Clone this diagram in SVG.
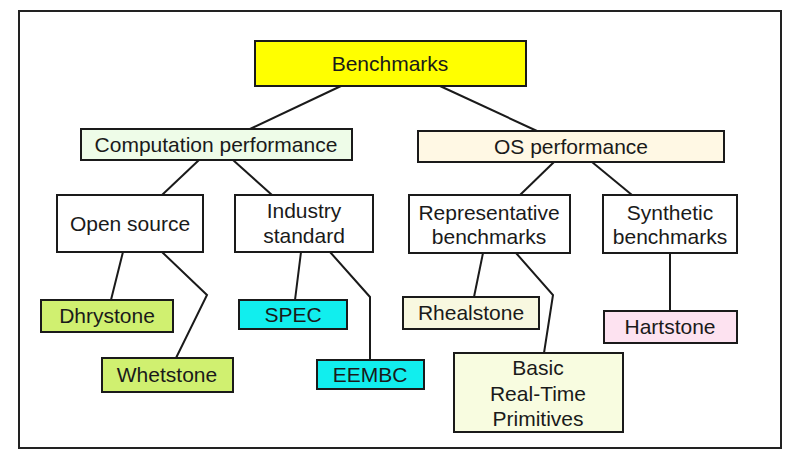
<svg xmlns="http://www.w3.org/2000/svg" width="790" height="456" viewBox="0 0 790 456">
<style>
.box{stroke:#1a1a1a;stroke-width:2}
.t{font-family:"Liberation Sans",Arial,sans-serif;font-size:21px;fill:#1a1a1a;text-anchor:middle}
.c{fill:none;stroke:#1a1a1a;stroke-width:2}
</style>
<rect width="790" height="456" fill="#ffffff"/>
<rect x="19" y="11" width="762" height="437" fill="none" stroke="#222" stroke-width="2"/>
<g id="connectors">
<path class="c" d="M341,86 L250,129"/>
<path class="c" d="M440,86 L537,131"/>
<path class="c" d="M199,160 L162,195"/>
<path class="c" d="M233,160 L272,195"/>
<path class="c" d="M554,162 L520,195"/>
<path class="c" d="M592,162 L632,195"/>
<path class="c" d="M123,252 L111,300"/>
<path class="c" d="M162,252 L207,295 L176,358"/>
<path class="c" d="M301,252 L295,300"/>
<path class="c" d="M330,252 L370,297 L370,360"/>
<path class="c" d="M483,253 L474,297"/>
<path class="c" d="M516,253 L553,295 L544,353"/>
<path class="c" d="M670,253 L670,311"/>
</g>
<g id="benchmarks"><rect class="box" x="255" y="41" width="271" height="45" fill="#ffff00"/><text class="t" x="390" y="71">Benchmarks</text></g>
<g id="computation"><rect class="box" x="81" y="129" width="271" height="31" fill="#eefce8"/><text class="t" x="216" y="152">Computation performance</text></g>
<g id="os"><rect class="box" x="418" y="131" width="306" height="31" fill="#fff8e4"/><text class="t" x="571" y="154">OS performance</text></g>
<g id="opensource"><rect class="box" x="57" y="195" width="146" height="57" fill="#ffffff"/><text class="t" x="130" y="231">Open source</text></g>
<g id="industry"><rect class="box" x="235" y="195" width="138" height="57" fill="#ffffff"/><text class="t" x="304" y="218">Industry</text><text class="t" x="304" y="243">standard</text></g>
<g id="representative"><rect class="box" x="409" y="195" width="161" height="58" fill="#ffffff"/><text class="t" x="489" y="220">Representative</text><text class="t" x="489" y="244">benchmarks</text></g>
<g id="synthetic"><rect class="box" x="603" y="195" width="134" height="58" fill="#ffffff"/><text class="t" x="670" y="220">Synthetic</text><text class="t" x="670" y="244">benchmarks</text></g>
<g id="dhrystone"><rect class="box" x="41" y="300" width="132" height="32" fill="#d0f070"/><text class="t" x="107" y="323">Dhrystone</text></g>
<g id="whetstone"><rect class="box" x="102" y="358" width="131" height="34" fill="#d0f070"/><text class="t" x="167" y="382">Whetstone</text></g>
<g id="spec"><rect class="box" x="239" y="300" width="108" height="29" fill="#11eeee"/><text class="t" x="293" y="322">SPEC</text></g>
<g id="eembc"><rect class="box" x="317" y="360" width="107" height="29" fill="#11eeee"/><text class="t" x="370" y="382">EEMBC</text></g>
<g id="rhealstone"><rect class="box" x="403" y="297" width="136" height="32" fill="#f8f8e0"/><text class="t" x="471" y="320">Rhealstone</text></g>
<g id="basic"><rect class="box" x="454" y="353" width="169" height="79" fill="#f8fce0"/><text class="t" x="538" y="375">Basic</text><text class="t" x="538" y="401">Real-Time</text><text class="t" x="538" y="426">Primitives</text></g>
<g id="hartstone"><rect class="box" x="604" y="311" width="133" height="32" fill="#fde2f0"/><text class="t" x="670" y="334">Hartstone</text></g>
</svg>
